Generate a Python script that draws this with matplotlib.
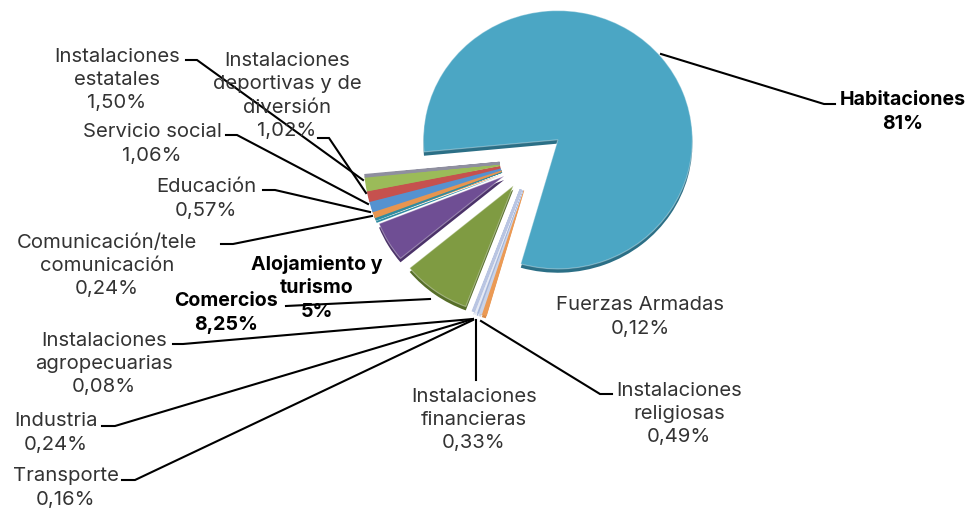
import matplotlib
matplotlib.use("Agg")
import matplotlib.pyplot as plt

# slice values, clockwise from the big one
values = [81, 0.49, 0.33, 0.16, 0.24, 0.08, 8.25, 5, 0.24, 0.57, 1.06, 1.02, 1.50, 0.12]
colors = ['#4ba6c4', '#eb9a55', '#c9d3e8', '#a3b4d8', '#e6eaf4', '#b9c5e2', '#7f9b42',
          '#6f4e94', '#2f8ca2', '#e8954f', '#5592d0', '#c6514e', '#9bbb59', '#8f8f9f']
rim_colors = ['#2b6f86', '#d98a48', '#c9d3e8', '#a3b4d8', '#e6eaf4', '#b9c5e2', '#566e28',
              '#4b3269', '#2f8ca2', '#e8954f', '#5592d0', '#c6514e', '#9bbb59', '#8f8f9f']

names = ['Habitaciones\n81%', 'Instalaciones\nreligiosas\n0,49%', 'Instalaciones\nfinancieras\n0,33%',
         'Transporte\n0,16%', 'Industria\n0,24%', 'Instalaciones\nagropecuarias\n0,08%',
         'Comercios\n8,25%', 'Alojamiento y\nturismo\n5%', 'Comunicación/tele\ncomunicación\n0,24%',
         'Educación\n0,57%', 'Servicio social\n1,06%', 'Instalaciones\ndeportivas y de\ndiversión\n1,02%',
         'Instalaciones\nestatales\n1,50%', 'Fuerzas Armadas\n0,12%']
bold = [True, False, False, False, False, False, True, True, False, False, False, False, False, False]

# label centres and leader lines, in pixels from the top left
label_pos = [(903, 112), (679, 414), (474, 420), (66, 488), (56, 433), (104, 364), (226, 313),
             (317, 288), (107, 266), (206, 199), (152, 144), (287, 96), (117, 80), (640, 317)]
leaders = [
    [(661, 55), (824, 105), (835, 105)],
    [(481, 322), (600, 395), (612, 395)],
    [(476, 321), (476, 381)],
    [(473, 321), (135, 481), (122, 481)],
    [(473, 320), (115, 427), (102, 427)],
    [(473, 320), (183, 345), (173, 345)],
    [(430, 300), (286, 307)],
    [(372, 217), (233, 245), (221, 245)],
    [(370, 213), (275, 191), (263, 191)],
    [(368, 205), (237, 136), (226, 136)],
    [(366, 194), (329, 139), (318, 139)],
    [(363, 181), (197, 61), (186, 61)],
]

W, H = 969, 510
squash = 0.96   # pie is a bit flatter than a circle
cx, cy = 532.5, (H - 161) / squash
radius = 134.5
explode = [33] * len(values)

fig = plt.figure(figsize=(W / 100, H / 100), dpi=100)
ax = fig.add_axes([0, 0, 1, 1])

# darker copy shifted down gives the 3d rim
ax.pie(values, colors=rim_colors, explode=explode, startangle=185.4, counterclock=False,
       radius=radius, center=(cx, cy - 4))
wedges, _ = ax.pie(values, colors=colors, explode=explode, startangle=185.4, counterclock=False,
                   radius=radius, center=(cx, cy))
for w, v, c in zip(wedges, values, colors):
    if v > 2:
        w.set_edgecolor((1, 1, 1, 0.35))
        w.set_linewidth(0.8)
    else:
        # thin slices touch each other in the reference
        w.set_edgecolor(c)
        w.set_linewidth(2)

ax.set_aspect('auto')
ax.set_xlim(0, W)
ax.set_ylim(0, H / squash)
ax.axis('off')

for pts in leaders:
    ax.plot([p[0] for p in pts], [(H - p[1]) / squash for p in pts], color='black', lw=1.5,
            solid_joinstyle='miter', zorder=3)

for name, pos, b in zip(names, label_pos, bold):
    ax.text(pos[0], (H - pos[1]) / squash, name, ha='center', va='center', multialignment='center',
            family='Inter', fontsize=14.1 if b else 14.6, linespacing=1.38, zorder=4,
            color='black' if b else '#333333', fontweight='bold' if b else 'normal')

fig.savefig('out.png', dpi=100)
